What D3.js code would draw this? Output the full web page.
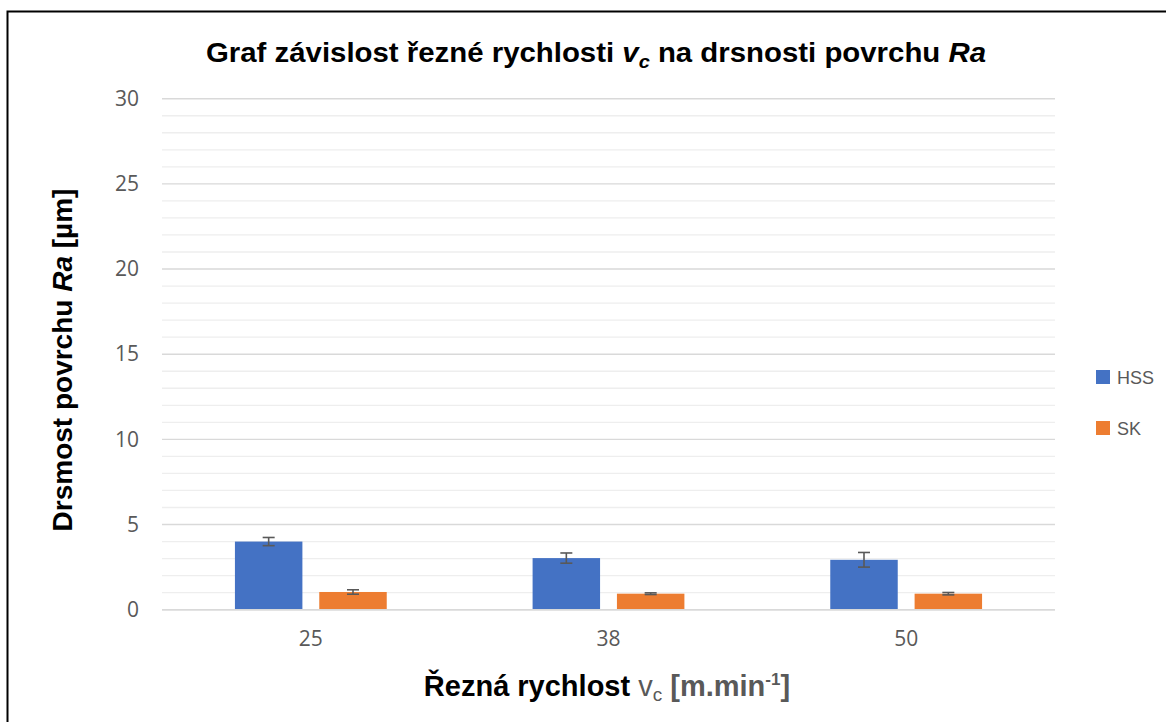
<!DOCTYPE html>
<html>
<head>
  <meta charset="utf-8">
  <title>Graf závislost řezné rychlosti</title>
  <script src="https://cdn.jsdelivr.net/npm/d3@7"></script>
  <style>
    body { margin: 0; background: #fff; }
    text { font-family: "Liberation Sans", Arial, sans-serif; }
    .tick text { font-family: "Open Sans", "Noto Sans", sans-serif; fill: #595959; font-size: 21px; }
  </style>
</head>
<body>
<svg width="1166" height="722"></svg>
<script>
// data
var speeds = ["25", "38", "50"];
var series = ["HSS", "SK"];
var hss = [4.0, 3.03, 2.93];
var sk = [1.04, 0.94, 0.94];
var hssErr = [0.24, 0.3, 0.43];
var skErr = [0.13, 0.05, 0.07];
var yTicks = [0, 5, 10, 15, 20, 25, 30];

var colors = { HSS: "#4472c4", SK: "#ed7d31" };

var svg = d3.select("svg");

// outer frame
svg.append("rect")
    .attr("x", 7.5).attr("y", 11.5)
    .attr("width", 1170).attr("height", 720)
    .attr("fill", "none").attr("stroke", "#000").attr("stroke-width", 2);

var plotLeft = 162, plotRight = 1055, plotTop = 98.7, plotBottom = 609.7;

var y = d3.scaleLinear().domain([0, 30]).range([plotBottom, plotTop]);
var x0 = d3.scaleBand().domain(speeds).range([plotLeft, plotRight])
    .paddingInner(0.49).paddingOuter(0.245);
var x1 = d3.scaleBand().domain(series).range([0, x0.bandwidth()])
    .paddingInner(0.2).paddingOuter(0);

// minor gridlines
svg.append("g").selectAll("line")
    .data(d3.range(0, 31).filter(function(d) { return d % 5 !== 0; }))
    .enter().append("line")
    .attr("x1", plotLeft).attr("x2", plotRight)
    .attr("y1", function(d) { return y(d); })
    .attr("y2", function(d) { return y(d); })
    .attr("stroke", "#eeeeee").attr("stroke-width", 1.3);

// major gridlines
svg.append("g").selectAll("line")
    .data(yTicks)
    .enter().append("line")
    .attr("x1", plotLeft).attr("x2", plotRight)
    .attr("y1", function(d) { return y(d); })
    .attr("y2", function(d) { return y(d); })
    .attr("stroke", "#d9d9d9").attr("stroke-width", 1.4);

// y axis labels
var yAxis = svg.append("g")
    .attr("transform", "translate(" + (plotLeft - 10) + ",0)")
    .call(d3.axisLeft(y).tickValues(yTicks).tickSize(0).tickPadding(13));
yAxis.select(".domain").remove();

// x axis labels
var xAxis = svg.append("g")
    .attr("transform", "translate(0," + plotBottom + ")")
    .call(d3.axisBottom(x0).tickSize(0).tickPadding(21));
xAxis.select(".domain").remove();

// bars
var rows = speeds.map(function(s, i) {
  return [
    { speed: s, key: "HSS", value: hss[i], err: hssErr[i] },
    { speed: s, key: "SK", value: sk[i], err: skErr[i] }
  ];
});

var groups = svg.append("g").selectAll("g")
    .data(rows)
    .enter().append("g")
    .attr("transform", function(d) { return "translate(" + x0(d[0].speed) + ",0)"; });

groups.selectAll("rect")
    .data(function(d) { return d; })
    .enter().append("rect")
    .attr("x", function(d) { return x1(d.key); })
    .attr("width", x1.bandwidth())
    .attr("y", function(d) { return y(d.value); })
    .attr("height", function(d) { return plotBottom - y(d.value); })
    .attr("fill", function(d) { return colors[d.key]; });

// error bars
var eb = groups.selectAll("g.err")
    .data(function(d) { return d; })
    .enter().append("g").attr("class", "err")
    .attr("stroke", "#595959").attr("stroke-width", 1.6);

eb.append("line")
    .attr("x1", function(d) { return x1(d.key) + x1.bandwidth() / 2; })
    .attr("x2", function(d) { return x1(d.key) + x1.bandwidth() / 2; })
    .attr("y1", function(d) { return y(d.value + d.err); })
    .attr("y2", function(d) { return y(d.value - d.err); });
eb.selectAll("line.cap")
    .data(function(d) { return [d.value + d.err, d.value - d.err].map(function(v) { return { key: d.key, v: v }; }); })
    .enter().append("line").attr("class", "cap")
    .attr("x1", function(d) { return x1(d.key) + x1.bandwidth() / 2 - 6; })
    .attr("x2", function(d) { return x1(d.key) + x1.bandwidth() / 2 + 6; })
    .attr("y1", function(d) { return y(d.v); })
    .attr("y2", function(d) { return y(d.v); });

// x baseline
svg.append("line")
    .attr("x1", plotLeft).attr("x2", plotRight)
    .attr("y1", plotBottom).attr("y2", plotBottom)
    .attr("stroke", "#d9d9d9").attr("stroke-width", 1.6);

// title
var title = svg.append("text")
    .attr("x", 596).attr("y", 62)
    .attr("text-anchor", "middle")
    .attr("font-size", 28).attr("font-weight", "bold").attr("fill", "#000")
    .attr("textLength", 780).attr("lengthAdjust", "spacingAndGlyphs");
title.append("tspan").text("Graf závislost řezné rychlosti ");
title.append("tspan").attr("font-style", "italic").text("v");
title.append("tspan").attr("font-style", "italic").attr("font-size", 19).attr("dy", 6).text("c");
title.append("tspan").attr("dy", -6).text(" na drsnosti povrchu ");
title.append("tspan").attr("font-style", "italic").text("Ra");

// y axis title
var yTitle = svg.append("text")
    .attr("transform", "translate(72,360) rotate(-90)")
    .attr("text-anchor", "middle")
    .attr("font-size", 28).attr("font-weight", "bold").attr("fill", "#000");
yTitle.append("tspan").text("Drsmost povrchu ");
yTitle.append("tspan").attr("font-style", "italic").text("Ra");
yTitle.append("tspan").text(" [µm]");

// x axis title
var xTitle = svg.append("text")
    .attr("x", 607).attr("y", 696)
    .attr("text-anchor", "middle")
    .attr("font-size", 29).attr("font-weight", "bold").attr("fill", "#000");
xTitle.append("tspan").text("Řezná rychlost ");
xTitle.append("tspan").attr("fill", "#595959").attr("font-weight", "normal").text("v");
xTitle.append("tspan").attr("fill", "#595959").attr("font-weight", "normal").attr("font-size", 19).attr("dy", 5).text("c");
xTitle.append("tspan").attr("fill", "#595959").attr("dy", -5).text(" [m.min");
xTitle.append("tspan").attr("fill", "#595959").attr("font-size", 17).attr("dy", -11).text("-1");
xTitle.append("tspan").attr("fill", "#595959").attr("dy", 11).text("]");

// legend
var legend = svg.append("g").selectAll("g")
    .data(series)
    .enter().append("g")
    .attr("transform", function(d, i) { return "translate(1096," + (370 + i * 51) + ")"; });
legend.append("rect")
    .attr("width", 14).attr("height", 14)
    .attr("fill", function(d) { return colors[d]; });
legend.append("text")
    .attr("x", 21).attr("y", 14)
    .attr("font-family", "'Open Sans', 'Noto Sans', sans-serif")
    .attr("font-size", 18).attr("fill", "#595959")
    .text(function(d) { return d; });
</script>
</body>
</html>
